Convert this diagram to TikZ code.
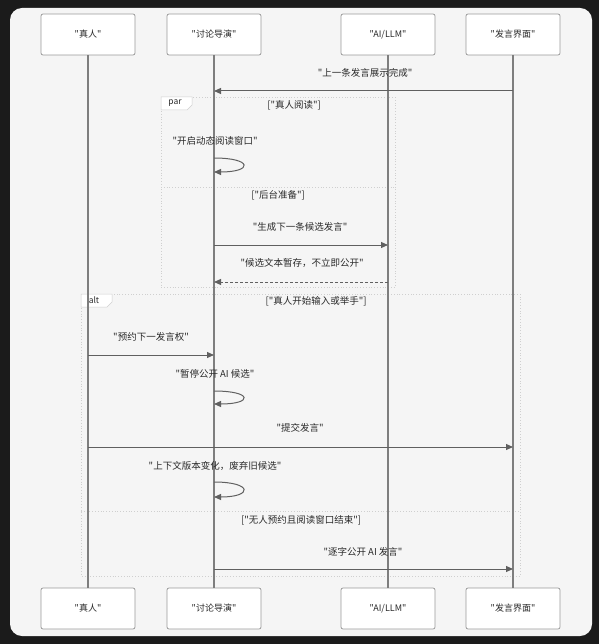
\documentclass[tikz,border=0pt]{standalone}
\usepackage{fontspec}
\setmainfont{Noto Sans CJK SC}[Ligatures=TeXOff]
\usetikzlibrary{arrows.meta}

\definecolor{bgdark}{HTML}{1B1B1B}
\definecolor{panelbg}{HTML}{F5F5F5}
\definecolor{actorbd}{HTML}{9A9A9A}
\definecolor{lifeclr}{HTML}{7E7E7E}
\definecolor{msgclr}{HTML}{606060}
\definecolor{framebd}{HTML}{CFCFCF}
\definecolor{txt}{HTML}{2A2A2A}

\tikzset{every picture/.style={line width=0.75pt}}
\tikzset{
  actor/.style={draw=actorbd, fill=white, rounded corners=2pt, minimum width=94pt, minimum height=41pt, inner sep=0pt, font=\fontsize{9}{11}\selectfont, text=txt},
  life/.style={draw=lifeclr, line width=1.3pt},
  msg/.style={draw=msgclr, line width=1pt, -{Triangle[length=7pt,width=6pt]}},
  reply/.style={msg, dash pattern=on 3pt off 2pt},
  lbl/.style={inner sep=0.75pt, font=\fontsize{9.5}{11}\selectfont, text=txt},
  frame/.style={draw=framebd, dotted, line width=0.8pt},
  tab/.style={draw=framebd, fill=white, line width=0.5pt},
  tabtext/.style={inner sep=0pt, font=\fontsize{8.5}{10}\selectfont, text=txt}
}

\begin{document}
\begin{tikzpicture}[x=1pt,y=1pt,yscale=-1,xscale=1]
%Shape: background and panel
\fill[bgdark] (0,0) rectangle (599,644);
\fill[panelbg, rounded corners=12pt] (10,8) rectangle (592,636);

%Shape: par frame
\draw[frame] (161,97) rectangle (395,287);
\draw[frame] (161,187) -- (395,187);
\draw[tab] (161,97) -- (192,97) -- (192,105) -- (187,110) -- (161,110) -- cycle;
%Shape: alt frame
\draw[frame] (81,294) rectangle (520,576);
\draw[frame] (81,511) -- (520,511);
\draw[tab] (81,294) -- (112,294) -- (112,302) -- (107,307) -- (81,307) -- cycle;

% Actor boxes
\node[actor] (hum) at (88,34.5) {"真人"};
\node[actor] (dir) at (214,34.5) {"讨论导演"};
\node[actor] (llm) at (388,34.5) {"AI/LLM"};
\node[actor] (ui) at (513,34.5) {"发言界面"};
\node[actor] (humB) at (88,608.5) {"真人"};
\node[actor] (dirB) at (214,608.5) {"讨论导演"};
\node[actor] (llmB) at (388,608.5) {"AI/LLM"};
\node[actor] (uiB) at (513,608.5) {"发言界面"};

% Lifelines
\draw[life] (hum) -- (humB);
\draw[life] (dir) -- (dirB);
\draw[life] (llm) -- (llmB);
\draw[life] (ui) -- (uiB);

% Rows of the messages
\coordinate (r1) at (0,91);
\coordinate (r2a) at (0,158);
\coordinate (r2b) at (0,172);
\coordinate (r3) at (0,245);
\coordinate (r4) at (0,282);
\coordinate (r5) at (0,355);
\coordinate (r6a) at (0,391);
\coordinate (r6b) at (0,404);
\coordinate (r7) at (0,447);
\coordinate (r8a) at (0,482);
\coordinate (r8b) at (0,497);
\coordinate (r9) at (0,569);

% Messages
\draw[msg] (ui |- r1) -- (dir |- r1);
\draw[msg] (dir |- r2a) .. controls +(39,0) and +(39,0) .. (dir |- r2b);
\draw[msg] (dir |- r3) -- (llm |- r3);
\draw[reply] (llm |- r4) -- (dir |- r4);
\draw[msg] (hum |- r5) -- (dir |- r5);
\draw[msg] (dir |- r6a) .. controls +(39,0) and +(39,0) .. (dir |- r6b);
\draw[msg] (hum |- r7) -- (ui |- r7);
\draw[msg] (dir |- r8a) .. controls +(39,0) and +(39,0) .. (dir |- r8b);
\draw[msg] (dir |- r9) -- (ui |- r9);

% Text Node
\node[tabtext] (partab) at (175,103.5) {par};
\node[tabtext] (alttab) at (94,300.5) {alt};
\node[lbl] (c1) at (294,105) {["真人阅读"]};
\node[lbl] (c2) at (278,195) {["后台准备"]};
\node[lbl] (c3) at (316,301) {["真人开始输入或举手"]};
\node[lbl] (c4) at (301,520) {["无人预约且阅读窗口结束"]};
\node[lbl] (t1) at (365,73) {"上一条发言展示完成"};
\node[lbl] (t2) at (215,141) {"开启动态阅读窗口"};
\node[lbl] (t3) at (300,227) {"生成下一条候选发言"};
\node[lbl] (t4) at (302,263) {"候选文本暂存，不立即公开"};
\node[lbl] (t5) at (151,337) {"预约下一发言权"};
\node[lbl] (t6) at (215,374) {"暂停公开 AI 候选"};
\node[lbl] (t7) at (300,428) {"提交发言"};
\node[lbl] (t8) at (215,466) {"上下文版本变化，废弃旧候选"};
\node[lbl] (t9) at (363,552) {"逐字公开 AI 发言"};

\end{tikzpicture}
\end{document}
